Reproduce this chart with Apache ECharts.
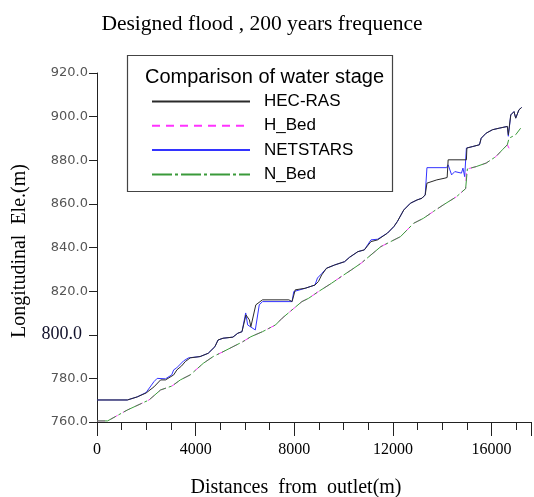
<!DOCTYPE html>
<html><head><meta charset="utf-8">
<script src="https://cdn.jsdelivr.net/npm/echarts@6/dist/echarts.min.js"></script>
<style>html,body{margin:0;padding:0;background:#fff}#c{width:534px;height:497px}</style>
</head><body><div id="c"></div>
<script>
// ---- data (distance from outlet in m, elevation in m) ----
const seriesNames = ['HEC-RAS', 'H_Bed', 'NETSTARS', 'N_Bed'];

const hecX = [0,1230,1630,1990,2310,2580,2780,3110,3240,3430,3580,3780,4180,4510,4780,4910,5110,5510,5710,5880,6040,6180,6240,6440,6710,7780,7910,8040,8440,8840,8980,9110,9310,9640,10040,10240,10580,10840,11110,11380,11780,12040,12180,12440,12710,12980,13180,13310,13380,13780,14110,14200,14240,14980,15000,15240,15510,15580,15780,16040,16310,16640,16680,16780,16910,16980,17110,17220];
const hecY = [770.1,770.1,771.5,773.3,776.1,779.3,779.3,781.6,783.9,785.7,787.7,789.4,790.0,791.5,794.5,797.6,798.4,798.9,800.7,801.4,809.1,806.8,803.7,813.7,816.0,816.0,815.2,820.6,821.3,822.8,824.4,827.4,830.5,832.0,833.5,835.5,838.1,838.9,842.7,843.5,846.6,849.6,851.9,857.2,860.3,861.8,862.6,864.1,869.5,871.0,871.8,872.1,880.2,880.2,885.6,886.3,887.1,890.1,892.4,894.0,894.7,895.5,891.7,900.8,902.3,899.3,903.1,904.2];

const netX = [0,1230,1630,1990,2310,2440,2780,3030,3110,3230,3510,3710,4180,4510,4780,4910,5110,5510,5710,5880,6030,6110,6420,6580,6710,7910,7980,8440,8840,8940,9110,9310,9640,10040,10240,10580,10840,11110,11380,11780,12040,12180,12440,12710,12980,13180,13310,13380,14180,14240,14310,14380,14510,14780,14840,14910,14980,15240,15510,15580,15780,16040,16310,16640,16680,16780,16910,16980,17110,17220];
const netY = [770.1,770.1,771.5,773.5,778.5,780.0,779.8,781.6,783.9,784.8,788.0,789.4,790.0,791.5,794.5,797.6,798.4,798.9,800.7,801.4,810.0,804.5,802.2,813.7,815.2,815.2,819.8,821.3,822.8,826.0,828.0,830.5,832.0,833.5,835.5,838.1,838.9,843.5,843.8,846.6,849.6,851.9,857.2,860.3,861.8,862.6,864.1,876.6,876.6,877.9,878.7,873.3,874.8,874.1,876.4,872.5,885.6,886.3,887.1,890.1,892.4,894.0,894.7,895.5,891.0,900.8,902.3,899.3,903.1,904.2];

const nBedX = [0,430,1230,2110,2580,3040,3380,3780,4310,4710,5110,5510,5910,6240,6710,7240,7510,7910,8310,8580,8980,9510,9910,10310,10710,11110,11510,11910,12310,12840,13240,13640,14040,14580,14950,15020,15380,15780,16180,16440,16640,16710,16980,17180];
const nBedY = [760.5,760.5,765.5,770.1,774.7,776.5,779.3,781.6,786.9,790.0,792.2,794.5,796.8,799.1,801.4,804.5,807.6,811.4,815.2,816.7,819.8,823.6,826.7,829.7,832.8,836.6,840.4,842.7,845.0,851.1,853.4,856.5,859.5,863.3,867.0,876.0,877.1,878.7,881.7,884.8,887.1,890.1,891.7,894.7];

const hBedX = [0,430,1230,2110,2580,3040,3380,3780,4310,4710,5110,5510,5910,6240,6710,7240,7510,7910,8310,8580,8980,9510,9910,10310,10710,11110,11510,11910,12310,12840,13240,13640,14040,14580,14950,14980,15020,15380,15780,16180,16440,16640,16700,16740,16800];
const hBedY = [760.5,760.5,765.5,770.1,774.7,776.5,779.3,781.6,786.9,790.0,792.2,794.5,796.8,799.1,801.4,804.5,807.6,811.4,815.2,816.7,819.8,823.6,826.7,829.7,832.8,836.6,840.4,842.7,845.0,851.1,853.4,856.5,859.5,863.3,867.0,874.8,876.0,877.1,878.7,881.7,884.8,887.1,886.5,884.8,884.0];

const xMajorTicks = [0,4000,8000,12000,16000];
const yEmphasisTick = 800;

function pairs(xs, ys){ return xs.map((x,i)=>[x, ys[i]]); }

const serif = 'Liberation Serif, Times New Roman, serif';
const sans = 'Liberation Sans, Arial, sans-serif';

const chart = echarts.init(document.getElementById('c'), null, {renderer:'canvas'});
const axisCol = '#222';
chart.setOption({
  animation: false,
  backgroundColor: '#fff',
  grid: {left: 97, top: 73, width: 440, height: 349, containLabel: false},
  xAxis: [{
    type: 'value', min: 0, max: 17600, interval: 4000,
    axisLine: {show: true, lineStyle: {color: axisCol, width: 1}},
    axisTick: {show: true, length: 14, lineStyle: {color: axisCol}},
    axisLabel: {show: true, margin: 20, color: '#000', fontFamily: serif, fontSize: 16,
      formatter: v => xMajorTicks.indexOf(v) >= 0 ? String(v) : ''},
    splitLine: {show: false}
  }, {
    type: 'value', min: 0, max: 17600, interval: 1000, position: 'bottom',
    axisLine: {show: false},
    axisTick: {show: true, length: 8, lineStyle: {color: axisCol}},
    axisLabel: {show: false},
    splitLine: {show: false}
  }],
  yAxis: {
    type: 'value', min: 760, max: 920, interval: 20,
    axisLine: {show: true, lineStyle: {color: axisCol, width: 1}},
    axisTick: {show: true, length: 8, lineStyle: {color: axisCol}},
    axisLabel: {margin: 9, color: '#555', fontFamily: 'DejaVu Sans, sans-serif', fontSize: 13,
      formatter: v => v === yEmphasisTick ? '{b|' + v.toFixed(1) + '}' : v.toFixed(1),
      rich: {b: {fontFamily: serif, fontSize: 18, color: '#10102a', padding: [0, 6, 0, 0]}}},
    splitLine: {show: false}
  },
  legend: {
    orient: 'vertical', left: 146, top: 88,
    itemWidth: 98, itemHeight: 16, itemGap: 7.3,
    data: seriesNames,
    itemStyle: {opacity: 0},
    textStyle: {fontFamily: sans, fontSize: 17, color: '#000', lineHeight: 16, padding: [0,0,0,9]}
  },
  graphic: [
    {type: 'rect', shape: {x: 127.5, y: 55.5, width: 265, height: 136}, style: {fill: 'none', stroke: '#444', lineWidth: 1.2}, z: 10},
    {type: 'text', x: 264.5, y: 77, style: {text: 'Comparison of water stage', font: '20px ' + sans, fill: '#000', textAlign: 'center', textVerticalAlign: 'middle'}, z: 10},
    {type: 'text', x: 262, y: 24, style: {text: 'Designed flood , 200 years frequence', font: '21.5px ' + serif, fill: '#000', textAlign: 'center', textVerticalAlign: 'middle'}},
    {type: 'text', x: 296, y: 488, style: {text: 'Distances  from  outlet(m)', font: '20px ' + serif, fill: '#000', textAlign: 'center', textVerticalAlign: 'middle'}},
    {type: 'text', x: 20, y: 251, rotation: Math.PI/2, style: {text: 'Longitudinal  Ele.(m)', font: '20px ' + serif, fill: '#000', textAlign: 'center', textVerticalAlign: 'middle'}}
  ],
  series: [
    {name: 'HEC-RAS', type: 'line', data: pairs(hecX, hecY), symbol: 'none', z: 5,
      lineStyle: {color: '#2a2a2a', width: 1}, itemStyle: {color: '#2a2a2a'}},
    {name: 'H_Bed', type: 'line', data: pairs(hBedX, hBedY), symbol: 'none', z: 2,
      lineStyle: {color: '#ff33ff', width: 1, type: [8, 6]}, itemStyle: {color: '#ff33ff'}},
    {name: 'NETSTARS', type: 'line', data: pairs(netX, netY), symbol: 'none', z: 4,
      lineStyle: {color: '#3333ff', width: 1}, itemStyle: {color: '#3333ff'}},
    {name: 'N_Bed', type: 'line', data: pairs(nBedX, nBedY), symbol: 'none', z: 3,
      lineStyle: {color: '#3a9a3a', width: 1, type: [20, 3, 3, 3]}, itemStyle: {color: '#3a9a3a'}}
  ]
});
</script>
</body></html>
